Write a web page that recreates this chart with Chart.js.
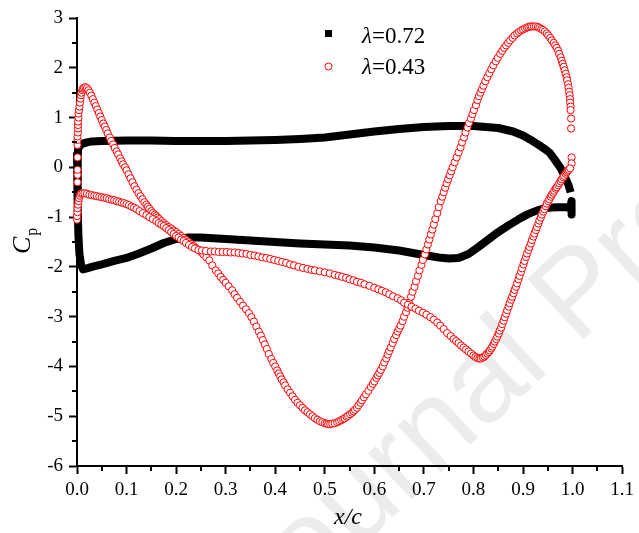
<!DOCTYPE html>
<html>
<head>
<meta charset="utf-8">
<script src="https://cdn.jsdelivr.net/npm/chart.js@4.4.1/dist/chart.umd.min.js"></script>
<style>
html, body { margin: 0; padding: 0; background: #fff; }
#wrap { width: 639px; height: 533px; }
</style>
</head>
<body>
<div id="wrap"><canvas id="cp" width="639" height="533"></canvas></div>
<script>
// lambda = 0.72, [x/c, Cp]
const cp072Upper = [[0.0,0.3],[0.002,0.36],[0.005,0.42],[0.01,0.47],[0.02,0.5],[0.03,0.52],[0.05,0.53],[0.1,0.54],[0.15,0.54],[0.2,0.53],[0.25,0.53],[0.3,0.53],[0.35,0.54],[0.4,0.55],[0.45,0.57],[0.5,0.6],[0.55,0.66],[0.6,0.72],[0.65,0.77],[0.7,0.81],[0.75,0.83],[0.8,0.83],[0.85,0.79],[0.88,0.72],[0.9,0.64],[0.914,0.56],[0.93,0.46],[0.945,0.36],[0.954,0.29],[0.965,0.14],[0.975,0.0],[0.985,-0.2],[0.992,-0.36],[0.996,-0.5]];
const cp072Lower = [[0.0,0.3],[0.001,-0.3],[0.002,-0.9],[0.003,-1.4],[0.005,-1.75],[0.008,-1.95],[0.012,-2.05],[0.02,-2.03],[0.03,-2.0],[0.05,-1.95],[0.075,-1.88],[0.1,-1.82],[0.125,-1.73],[0.15,-1.63],[0.175,-1.52],[0.2,-1.44],[0.225,-1.41],[0.25,-1.41],[0.3,-1.44],[0.35,-1.47],[0.4,-1.5],[0.45,-1.53],[0.5,-1.55],[0.55,-1.57],[0.6,-1.61],[0.65,-1.67],[0.7,-1.76],[0.73,-1.81],[0.75,-1.83],[0.77,-1.82],[0.79,-1.74],[0.81,-1.6],[0.83,-1.45],[0.85,-1.3],[0.87,-1.17],[0.89,-1.05],[0.91,-0.94],[0.93,-0.86],[0.95,-0.81],[0.97,-0.8],[0.985,-0.8],[0.995,-0.82],[0.998,-0.68],[0.998,-0.95]];

// lambda = 0.43, [x/c, Cp]
const cp043SideA = [[0.001,-0.3],[0.001,-0.15],[0.001,-0.05],[0.001,0.2],[0.001,0.45],[0.001,0.55],[0.001,0.62],[0.002,0.7],[0.002,0.78],[0.002,0.85],[0.002,0.92],[0.003,1.0],[0.003,1.08],[0.004,1.15],[0.005,1.22],[0.006,1.3],[0.007,1.38],[0.008,1.45],[0.009,1.5],[0.011,1.55],[0.012,1.58],[0.014,1.6],[0.017,1.61],[0.02,1.59],[0.023,1.55],[0.026,1.5],[0.029,1.44],[0.032,1.37],[0.035,1.3],[0.038,1.23],[0.041,1.16],[0.044,1.09],[0.047,1.02],[0.05,0.95],[0.053,0.88],[0.056,0.82],[0.059,0.75],[0.062,0.68],[0.066,0.6],[0.069,0.53],[0.073,0.46],[0.076,0.39],[0.08,0.32],[0.083,0.26],[0.087,0.18],[0.09,0.12],[0.093,0.06],[0.097,0.0],[0.1,-0.06],[0.104,-0.14],[0.108,-0.22],[0.112,-0.3],[0.116,-0.38],[0.12,-0.45],[0.124,-0.52],[0.128,-0.58],[0.132,-0.64],[0.136,-0.7],[0.14,-0.75],[0.143,-0.79],[0.146,-0.83],[0.15,-0.88],[0.153,-0.92],[0.157,-0.95],[0.16,-0.98],[0.163,-1.01],[0.166,-1.04],[0.17,-1.08],[0.175,-1.12],[0.18,-1.16],[0.185,-1.2],[0.19,-1.23],[0.195,-1.27],[0.2,-1.3],[0.205,-1.34],[0.21,-1.38],[0.215,-1.42],[0.22,-1.46],[0.225,-1.5],[0.23,-1.54],[0.235,-1.58],[0.24,-1.62],[0.245,-1.66],[0.25,-1.7],[0.255,-1.75],[0.261,-1.81],[0.267,-1.87],[0.273,-1.97],[0.28,-2.07],[0.285,-2.13],[0.29,-2.2],[0.295,-2.26],[0.3,-2.32],[0.306,-2.39],[0.313,-2.47],[0.318,-2.55],[0.323,-2.62],[0.329,-2.7],[0.335,-2.78],[0.341,-2.85],[0.347,-2.93],[0.352,-3.01],[0.357,-3.1],[0.362,-3.2],[0.367,-3.3],[0.371,-3.38],[0.375,-3.47],[0.379,-3.56],[0.383,-3.65],[0.387,-3.75],[0.392,-3.85],[0.396,-3.93],[0.4,-4.0],[0.404,-4.08],[0.407,-4.14],[0.41,-4.2],[0.413,-4.26],[0.417,-4.32],[0.42,-4.38],[0.425,-4.46],[0.43,-4.53],[0.435,-4.6],[0.44,-4.67],[0.445,-4.73],[0.45,-4.78],[0.455,-4.83],[0.46,-4.88],[0.465,-4.92],[0.47,-4.96],[0.475,-5.0],[0.48,-5.04],[0.485,-5.07],[0.49,-5.1],[0.495,-5.12],[0.5,-5.14],[0.504,-5.15],[0.507,-5.16],[0.511,-5.16],[0.515,-5.15],[0.52,-5.14],[0.525,-5.12],[0.529,-5.1],[0.533,-5.08],[0.537,-5.06],[0.54,-5.04],[0.544,-5.01],[0.547,-4.99],[0.551,-4.96],[0.555,-4.93],[0.558,-4.9],[0.561,-4.87],[0.565,-4.83],[0.568,-4.78],[0.572,-4.73],[0.575,-4.68],[0.579,-4.62],[0.583,-4.56],[0.588,-4.49],[0.593,-4.41],[0.597,-4.35],[0.6,-4.3],[0.604,-4.23],[0.607,-4.18],[0.61,-4.13],[0.613,-4.07],[0.617,-4.0],[0.62,-3.92],[0.624,-3.84],[0.627,-3.76],[0.63,-3.69],[0.633,-3.62],[0.637,-3.53],[0.64,-3.45],[0.644,-3.37],[0.647,-3.3],[0.65,-3.24],[0.653,-3.18],[0.657,-3.09],[0.66,-3.0],[0.664,-2.91],[0.667,-2.82],[0.67,-2.72],[0.674,-2.6],[0.677,-2.5],[0.681,-2.4],[0.684,-2.29],[0.688,-2.18],[0.691,-2.07],[0.695,-1.96],[0.698,-1.86],[0.702,-1.75],[0.705,-1.65],[0.708,-1.55],[0.711,-1.45],[0.714,-1.35],[0.717,-1.25],[0.72,-1.15],[0.723,-1.04],[0.727,-0.92],[0.73,-0.8],[0.734,-0.68],[0.737,-0.59],[0.74,-0.5],[0.743,-0.41],[0.746,-0.32],[0.749,-0.24],[0.752,-0.16],[0.755,-0.08],[0.758,0.0],[0.762,0.1],[0.766,0.2],[0.77,0.3],[0.774,0.4],[0.777,0.5],[0.781,0.6],[0.784,0.7],[0.788,0.8],[0.791,0.89],[0.795,0.98],[0.798,1.07],[0.801,1.15],[0.805,1.25],[0.808,1.35],[0.811,1.43],[0.814,1.5],[0.817,1.57],[0.82,1.64],[0.824,1.73],[0.828,1.81],[0.832,1.89],[0.836,1.97],[0.84,2.05],[0.845,2.13],[0.849,2.2],[0.854,2.28],[0.858,2.34],[0.862,2.4],[0.866,2.45],[0.87,2.5],[0.874,2.55],[0.879,2.6],[0.883,2.65],[0.888,2.69],[0.892,2.72],[0.896,2.75],[0.9,2.77],[0.904,2.79],[0.908,2.81],[0.911,2.82],[0.915,2.83],[0.918,2.83],[0.922,2.83],[0.926,2.83],[0.93,2.82],[0.933,2.8],[0.937,2.78],[0.94,2.76],[0.944,2.73],[0.948,2.69],[0.951,2.65],[0.955,2.6],[0.958,2.55],[0.962,2.5],[0.965,2.45],[0.968,2.4],[0.971,2.34],[0.973,2.28],[0.976,2.21],[0.978,2.14],[0.98,2.08],[0.982,2.02],[0.984,1.95],[0.986,1.88],[0.988,1.81],[0.989,1.75],[0.991,1.67],[0.992,1.6],[0.993,1.52],[0.994,1.45],[0.995,1.37],[0.995,1.3],[0.996,1.22],[0.996,1.15],[0.997,0.98],[0.997,0.78],[0.998,0.2],[0.998,0.08]];
const cp043SideB = [[0.0,-1.05],[0.0,-0.98],[0.001,-0.9],[0.001,-0.82],[0.002,-0.75],[0.003,-0.68],[0.004,-0.62],[0.006,-0.57],[0.008,-0.53],[0.011,-0.52],[0.015,-0.52],[0.02,-0.53],[0.025,-0.55],[0.03,-0.56],[0.035,-0.57],[0.04,-0.58],[0.045,-0.59],[0.05,-0.6],[0.055,-0.61],[0.06,-0.62],[0.065,-0.64],[0.07,-0.65],[0.075,-0.66],[0.08,-0.68],[0.085,-0.69],[0.09,-0.71],[0.095,-0.72],[0.1,-0.74],[0.105,-0.76],[0.11,-0.79],[0.115,-0.81],[0.12,-0.84],[0.126,-0.88],[0.133,-0.92],[0.14,-0.96],[0.146,-1.0],[0.153,-1.04],[0.16,-1.08],[0.165,-1.12],[0.17,-1.15],[0.175,-1.18],[0.18,-1.22],[0.185,-1.26],[0.19,-1.3],[0.195,-1.34],[0.2,-1.38],[0.205,-1.41],[0.21,-1.45],[0.215,-1.48],[0.22,-1.52],[0.226,-1.56],[0.232,-1.6],[0.238,-1.63],[0.245,-1.66],[0.252,-1.67],[0.26,-1.68],[0.27,-1.69],[0.278,-1.69],[0.286,-1.7],[0.294,-1.7],[0.302,-1.7],[0.31,-1.71],[0.318,-1.71],[0.326,-1.72],[0.334,-1.73],[0.342,-1.74],[0.35,-1.76],[0.358,-1.77],[0.366,-1.79],[0.374,-1.81],[0.382,-1.82],[0.39,-1.84],[0.398,-1.86],[0.406,-1.88],[0.414,-1.9],[0.422,-1.92],[0.43,-1.95],[0.438,-1.97],[0.447,-2.0],[0.456,-2.02],[0.465,-2.04],[0.473,-2.06],[0.48,-2.07],[0.49,-2.09],[0.5,-2.11],[0.51,-2.13],[0.52,-2.16],[0.528,-2.18],[0.535,-2.2],[0.543,-2.22],[0.55,-2.25],[0.558,-2.27],[0.565,-2.3],[0.573,-2.32],[0.58,-2.35],[0.59,-2.38],[0.6,-2.42],[0.608,-2.45],[0.615,-2.48],[0.623,-2.51],[0.63,-2.55],[0.638,-2.59],[0.647,-2.63],[0.654,-2.67],[0.66,-2.72],[0.668,-2.76],[0.675,-2.8],[0.683,-2.84],[0.69,-2.88],[0.698,-2.92],[0.705,-2.96],[0.713,-3.01],[0.72,-3.06],[0.727,-3.12],[0.733,-3.18],[0.74,-3.25],[0.747,-3.33],[0.754,-3.39],[0.76,-3.45],[0.765,-3.49],[0.77,-3.53],[0.775,-3.58],[0.78,-3.62],[0.785,-3.66],[0.79,-3.7],[0.795,-3.74],[0.8,-3.78],[0.804,-3.81],[0.808,-3.83],[0.812,-3.84],[0.815,-3.84],[0.819,-3.82],[0.822,-3.8],[0.825,-3.77],[0.828,-3.74],[0.831,-3.71],[0.833,-3.68],[0.836,-3.64],[0.838,-3.6],[0.841,-3.55],[0.843,-3.5],[0.846,-3.45],[0.848,-3.4],[0.851,-3.34],[0.853,-3.28],[0.856,-3.22],[0.858,-3.15],[0.861,-3.08],[0.863,-3.01],[0.866,-2.94],[0.868,-2.87],[0.871,-2.8],[0.873,-2.73],[0.876,-2.66],[0.878,-2.6],[0.881,-2.53],[0.883,-2.46],[0.886,-2.4],[0.888,-2.33],[0.891,-2.25],[0.893,-2.18],[0.896,-2.1],[0.898,-2.03],[0.901,-1.95],[0.903,-1.88],[0.906,-1.8],[0.908,-1.73],[0.911,-1.66],[0.913,-1.6],[0.916,-1.53],[0.918,-1.46],[0.921,-1.39],[0.923,-1.33],[0.926,-1.26],[0.928,-1.2],[0.931,-1.13],[0.933,-1.07],[0.936,-1.01],[0.938,-0.95],[0.941,-0.89],[0.943,-0.84],[0.946,-0.78],[0.948,-0.73],[0.951,-0.68],[0.953,-0.64],[0.956,-0.59],[0.958,-0.55],[0.961,-0.51],[0.963,-0.47],[0.966,-0.43],[0.968,-0.4],[0.971,-0.36],[0.973,-0.32],[0.976,-0.28],[0.978,-0.24],[0.981,-0.2],[0.983,-0.17],[0.986,-0.13],[0.988,-0.1],[0.99,-0.07],[0.992,-0.05],[0.995,-0.02]];

const legendLabels = ['=0.72', '=0.43'];
const xMinorTicks = [0.05, 0.15, 0.25, 0.35, 0.45, 0.55, 0.65, 0.75, 0.85, 0.95, 1.05];
const yMinorTicks = [-5.5, -4.5, -3.5, -2.5, -1.5, -0.5, 0.5, 1.5, 2.5];

const SERIF = '"Liberation Serif", "Times New Roman", serif';
const toPts = arr => arr.map(p => ({ x: p[0], y: p[1] }));

const black = {
    showLine: true,
    borderColor: '#000',
    backgroundColor: '#000',
    borderWidth: 8,
    borderJoinStyle: 'round',
    pointRadius: 0,
    tension: 0,
    clip: false,
    order: 2
};

const watermark = {
    id: 'watermark',
    beforeDraw(chart) {
        const ctx = chart.ctx;
        ctx.save();
        ctx.translate(264, 637);
        ctx.rotate(-43 * Math.PI / 180);
        ctx.fillStyle = '#ececec';
        ctx.font = '120px "Liberation Sans", Arial, sans-serif';
        ctx.textBaseline = 'alphabetic';
        ctx.fillText('Journal Pre-proof', 0, 0);
        ctx.restore();
    }
};

const extras = {
    id: 'extras',
    afterDraw(chart) {
        const ctx = chart.ctx;
        const xs = chart.scales.x, ys = chart.scales.y;
        const area = chart.chartArea;
        ctx.save();

        // minor ticks
        ctx.strokeStyle = '#000';
        ctx.lineWidth = 2;
        ctx.beginPath();
        xMinorTicks.forEach(v => {
            const px = Math.round(xs.getPixelForValue(v));
            ctx.moveTo(px, area.bottom);
            ctx.lineTo(px, area.bottom + 5);
        });
        yMinorTicks.forEach(v => {
            const py = Math.round(ys.getPixelForValue(v));
            ctx.moveTo(area.left, py);
            ctx.lineTo(area.left - 5, py);
        });
        ctx.stroke();

        // axis titles
        ctx.fillStyle = '#000';
        ctx.textBaseline = 'alphabetic';
        ctx.textAlign = 'center';
        ctx.font = 'italic 24px ' + SERIF;
        ctx.fillText('x/c', 348, 524);

        ctx.save();
        ctx.translate(30, 244);
        ctx.rotate(-Math.PI / 2);
        ctx.textAlign = 'left';
        ctx.font = 'italic 26px ' + SERIF;
        ctx.fillText('C', -10, 0);
        const cw = ctx.measureText('C').width;
        ctx.font = '16px ' + SERIF;
        ctx.fillText('p', -10 + cw + 1, 7);
        ctx.restore();

        // legend
        const rows = [43, 74];
        ctx.fillStyle = '#000';
        ctx.fillRect(325, 30, 7, 7);
        ctx.beginPath();
        ctx.arc(328.5, 66.5, 3.5, 0, Math.PI * 2);
        ctx.fillStyle = '#fff';
        ctx.fill();
        ctx.strokeStyle = '#ff0000';
        ctx.lineWidth = 1;
        ctx.stroke();

        ctx.fillStyle = '#000';
        ctx.textAlign = 'left';
        legendLabels.forEach((lab, i) => {
            ctx.font = 'italic 23px ' + SERIF;
            ctx.fillText('\u03bb', 362, rows[i]);
            const lw = ctx.measureText('\u03bb').width;
            ctx.font = '23px ' + SERIF;
            ctx.fillText(lab, 362 + lw, rows[i]);
        });
        ctx.restore();
    }
};

const tickFont = { family: SERIF, size: 19 };

new Chart(document.getElementById('cp'), {
    type: 'scatter',
    data: {
        datasets: [
            {
                label: '\u03bb=0.43',
                data: toPts(cp043SideA).concat(toPts(cp043SideB)),
                pointStyle: 'circle',
                pointRadius: 3.6,
                pointBorderWidth: 1,
                pointBorderColor: '#ff0000',
                pointBackgroundColor: '#ffffff',
                showLine: false,
                clip: false,
                order: 0
            },
            Object.assign({ label: '\u03bb=0.72', data: toPts(cp072Upper) }, black),
            Object.assign({ label: '\u03bb=0.72 lower', data: toPts(cp072Lower) }, black)
        ]
    },
    options: {
        responsive: false,
        animation: false,
        devicePixelRatio: 1,
        layout: { padding: { top: 18, right: 14, left: 0, bottom: 0 } },
        plugins: {
            legend: { display: false },
            tooltip: { enabled: false }
        },
        scales: {
            x: {
                type: 'linear',
                min: 0,
                max: 1.1,
                afterFit(s) { s.height = 67; },
                ticks: {
                    stepSize: 0.1,
                    autoSkip: false,
                    maxRotation: 0,
                    padding: 5,
                    color: '#000',
                    font: tickFont,
                    callback: v => Number(v).toFixed(1)
                },
                grid: { drawOnChartArea: false, drawTicks: true, tickLength: 8, tickWidth: 2, tickColor: '#000' },
                border: { display: true, color: '#000', width: 2 }
            },
            y: {
                type: 'linear',
                min: -6,
                max: 3,
                afterFit(s) { s.width = 77; },
                ticks: {
                    stepSize: 1,
                    autoSkip: false,
                    padding: 6,
                    color: '#000',
                    font: tickFont,
                    callback: v => String(Math.round(v))
                },
                grid: { drawOnChartArea: false, drawTicks: true, tickLength: 8, tickWidth: 2, tickColor: '#000' },
                border: { display: true, color: '#000', width: 2 }
            }
        }
    },
    plugins: [watermark, extras]
});
</script>
</body>
</html>
